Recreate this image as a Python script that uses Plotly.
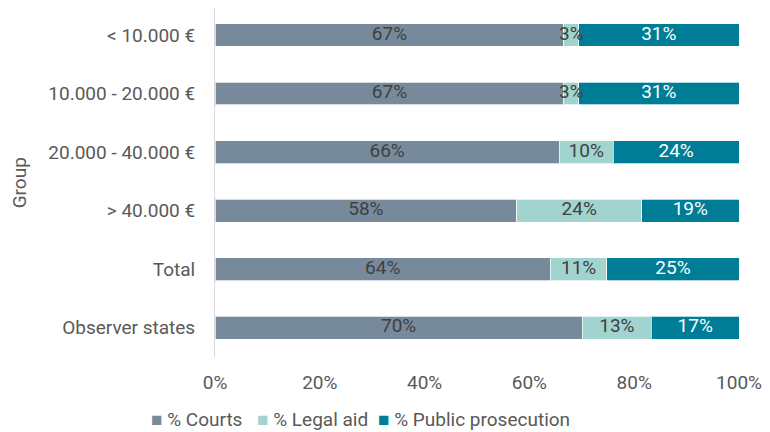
import plotly.graph_objects as go

groups = ["< 10.000 €", "10.000 - 20.000 €", "20.000 - 40.000 €", "> 40.000 €", "Total", "Observer states"]
courts = [66.6, 66.6, 65.7, 57.6, 64.0, 70.1]
legal_aid = [2.8, 2.8, 10.3, 23.8, 10.8, 13.2]
prosecution = [30.6, 30.6, 24.0, 18.6, 25.2, 16.7]
x_ticks = [0, 20, 40, 60, 80, 100]
x_tick_labels = ["0%", "20%", "40%", "60%", "80%", "100%"]

FONT = "Roboto"
FS = 19
GREY = "#595959"
series = [
    ("% Courts", courts, "#778a9b", "#404040"),
    ("% Legal aid", legal_aid, "#a2d4cf", "#404040"),
    ("% Public prosecution", prosecution, "#007d96", "#ffffff"),
]

fig = go.Figure()
for name, vals, color, tcolor in series:
    fig.add_trace(go.Bar(
        y=groups, x=vals, name=name, orientation="h",
        marker=dict(color=color, line=dict(color="rgba(255,255,255,0.7)", width=1)),
        hoverinfo="skip", showlegend=False,
    ))

# data labels drawn on top of all bars (centred in each segment)
base = [0.0] * len(groups)
for name, vals, color, tcolor in series:
    mids = [b + v / 2 for b, v in zip(base, vals)]
    fig.add_trace(go.Scatter(
        x=mids, y=groups, mode="text",
        text=[f"{round(v)}%" for v in vals],
        textposition="middle center",
        textfont=dict(family=FONT, size=FS, color=tcolor),
        hoverinfo="skip", showlegend=False,
    ))
    base = [b + v for b, v in zip(base, vals)]

# legend entries (coloured square + label)
legend_x = [-0.126, 0.0764, 0.3074]
annotations = []
for (name, vals, color, tcolor), lx in zip(series, legend_x):
    annotations.append(dict(
        text=f"<span style='color:{color}'>■</span> {name}",
        xref="paper", yref="paper", x=lx, y=-0.178, xanchor="left", yanchor="middle",
        showarrow=False, font=dict(family=FONT, size=FS, color=GREY),
    ))
annotations.append(dict(text="Group", textangle=-90, xref="paper", yref="paper",
                        x=-0.3724, y=0.5, xanchor="center", yanchor="middle", showarrow=False,
                        font=dict(family=FONT, size=FS, color=GREY)))

fig.update_layout(
    barmode="stack",
    width=762, height=424,
    margin=dict(l=207, r=31, t=0, b=75),
    paper_bgcolor="white", plot_bgcolor="white",
    font=dict(family=FONT, size=FS, color=GREY),
    bargap=0.61,
    showlegend=False,
    xaxis=dict(range=[0, 100], tickvals=x_ticks, ticktext=x_tick_labels, showgrid=False,
               zeroline=False, showline=False, ticks="", automargin=False,
               ticklabelstandoff=12,
               tickfont=dict(size=FS, color=GREY)),
    yaxis=dict(range=[5.5, -0.461], showgrid=False, showline=True,
               linecolor="#d9d9d9", linewidth=1, ticks="", automargin=False,
               ticklabelstandoff=15,
               tickfont=dict(size=FS, color=GREY)),
    annotations=annotations,
)

fig.write_html("out.html")
